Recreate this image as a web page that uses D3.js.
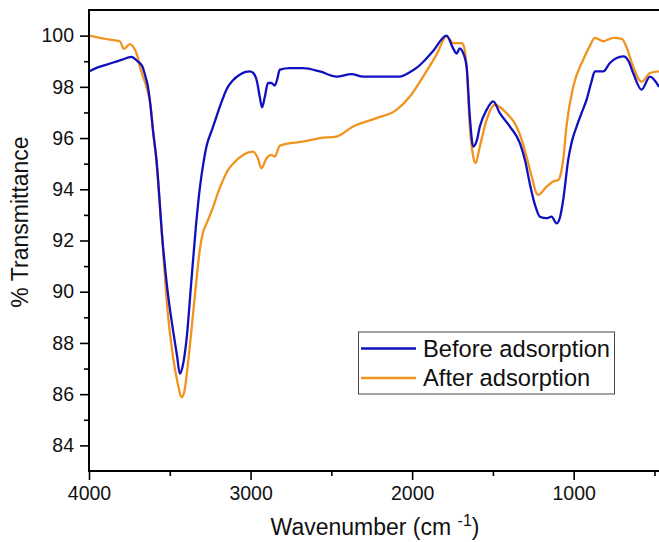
<!DOCTYPE html>
<html>
<head>
<meta charset="utf-8">
<script src="https://cdn.jsdelivr.net/npm/d3@7"></script>
<style>
  body { margin: 0; background: #fff; }
  svg { font-family: "Liberation Sans", Arial, sans-serif; }
</style>
</head>
<body>
<script>
// FTIR spectra
var beforeWn = [4000, 3950, 3900, 3850, 3800, 3738, 3700, 3670, 3655, 3635, 3620, 3604, 3583, 3545, 3515, 3480, 3455, 3438, 3420, 3397, 3366, 3339, 3315, 3290, 3273, 3240, 3211, 3180, 3149, 3110, 3067, 3030, 3005, 2985, 2960, 2943, 2929, 2912, 2892, 2871, 2850, 2835, 2819, 2757, 2675, 2571, 2468, 2375, 2303, 2076, 2020, 1973, 1920, 1870, 1787, 1746, 1725, 1705, 1690, 1663, 1643, 1622, 1600, 1581, 1539, 1498, 1457, 1395, 1333, 1300, 1271, 1240, 1209, 1168, 1137, 1106, 1085, 1065, 1034, 1010, 982, 950, 920, 890, 869, 817, 776, 693, 660, 632, 580, 528, 472];
var beforeT  = [98.6, 98.75, 98.85, 98.95, 99.05, 99.17, 99.0, 98.8, 98.5, 98.0, 97.3, 96.3, 95.2, 92.0, 90.1, 88.5, 87.5, 86.8, 87.1, 88.1, 90.45, 92.5, 94.0, 95.1, 95.67, 96.3, 96.84, 97.4, 97.9, 98.25, 98.47, 98.58, 98.6, 98.55, 98.2, 97.6, 97.2, 97.6, 98.15, 98.15, 98.05, 98.3, 98.67, 98.73, 98.73, 98.6, 98.4, 98.5, 98.4, 98.4, 98.55, 98.74, 99.05, 99.4, 100.0, 99.5, 99.3, 99.5, 99.4, 98.8, 96.84, 95.67, 95.9, 96.45, 97.1, 97.43, 96.97, 96.45, 95.8, 95.1, 94.2, 93.4, 92.93, 92.87, 92.93, 92.67, 92.9, 93.58, 95.15, 95.9, 96.45, 97.0, 97.5, 98.2, 98.6, 98.6, 98.93, 99.19, 99.0, 98.54, 97.89, 98.4, 98.0];

var afterWn = [4000, 3871, 3810, 3783, 3748, 3728, 3700, 3686, 3645, 3620, 3604, 3583, 3545, 3521, 3480, 3450, 3428, 3410, 3397, 3366, 3335, 3315, 3295, 3270, 3232, 3200, 3170, 3140, 3108, 3046, 2985, 2954, 2933, 2902, 2871, 2850, 2819, 2757, 2675, 2571, 2468, 2365, 2220, 2097, 2014, 1932, 1849, 1787, 1746, 1694, 1684, 1663, 1643, 1622, 1607, 1581, 1539, 1488, 1415, 1354, 1320, 1292, 1260, 1230, 1220, 1168, 1127, 1096, 1080, 1065, 1044, 1003, 941, 900, 869, 817, 755, 702, 670, 640, 580, 528, 472];
var afterT  = [100.0, 99.84, 99.78, 99.48, 99.67, 99.58, 99.2, 98.8, 98.0, 97.3, 96.3, 95.1, 91.9, 89.8, 87.45, 86.4, 85.88, 86.1, 86.67, 88.5, 90.45, 91.6, 92.3, 92.7, 93.3, 93.9, 94.36, 94.75, 95.0, 95.34, 95.47, 95.2, 94.82, 95.2, 95.34, 95.28, 95.7, 95.8, 95.86, 96.0, 96.06, 96.45, 96.78, 97.1, 97.62, 98.4, 99.26, 99.97, 99.71, 99.71, 99.65, 98.8, 96.45, 95.28, 95.02, 95.67, 96.71, 97.3, 96.97, 96.45, 95.9, 95.28, 94.5, 93.84, 93.78, 94.1, 94.3, 94.36, 94.6, 95.15, 96.5, 98.0, 99.06, 99.6, 99.91, 99.78, 99.91, 99.87, 99.5, 98.93, 98.2, 98.54, 98.6];

var seriesNames = ["Before adsorption", "After adsorption"];
var seriesColors = ["#1010bf", "#f0931f"];
var xTicks = [4000, 3000, 2000, 1000];
var yTicks = [84, 86, 88, 90, 92, 94, 96, 98, 100];
var xMinor = [3500, 2500, 1500, 500];
var yMinor = [85, 87, 89, 91, 93, 95, 97, 99];

var width = 659, height = 542;
var plotLeft = 89, plotTop = 10, plotRight = 659, plotBottom = 471;

var svg = d3.select("body").append("svg")
    .attr("width", width)
    .attr("height", height);

var x = d3.scaleLinear().domain([4000, 472]).range([plotLeft, plotRight]);
var y = d3.scaleLinear().domain([83, 101]).range([plotBottom, plotTop]);

svg.append("clipPath").attr("id", "clip")
  .append("rect")
    .attr("x", plotLeft).attr("y", plotTop)
    .attr("width", plotRight - plotLeft).attr("height", plotBottom - plotTop);

var series = [
  beforeWn.map(function(w, i) { return {wn: w, t: beforeT[i]}; }),
  afterWn.map(function(w, i) { return {wn: w, t: afterT[i]}; })
];

// pixel x grows as wavenumber falls, so monotoneX works fine here
var line = d3.line()
    .curve(d3.curveMonotoneX)
    .x(function(d) { return x(d.wn); })
    .y(function(d) { return y(d.t); });

// draw "after" first so blue sits on top where they overlap
svg.append("g").attr("clip-path", "url(#clip)")
  .selectAll("path")
  .data([1, 0])
  .enter().append("path")
    .attr("d", function(i) { return line(series[i]); })
    .attr("fill", "none")
    .attr("stroke", function(i) { return seriesColors[i]; })
    .attr("stroke-width", 2.3)
    .attr("stroke-linejoin", "round");

// axes (major + minor ticks), domain lines replaced by the frame below
svg.append("g")
    .attr("transform", "translate(0," + plotBottom + ")")
    .call(d3.axisBottom(x).tickValues(xTicks).tickFormat(d3.format("d")).tickSize(9).tickPadding(6));
svg.append("g")
    .attr("transform", "translate(0," + plotBottom + ")")
    .call(d3.axisBottom(x).tickValues(xMinor).tickFormat("").tickSize(5));
svg.append("g")
    .attr("transform", "translate(" + plotLeft + ",0)")
    .call(d3.axisLeft(y).tickValues(yTicks).tickSize(9).tickPadding(6));
svg.append("g")
    .attr("transform", "translate(" + plotLeft + ",0)")
    .call(d3.axisLeft(y).tickValues(yMinor).tickFormat("").tickSize(5));

svg.selectAll(".domain").remove();
svg.selectAll(".tick line").attr("stroke", "#000").attr("stroke-width", 1.6);
svg.selectAll(".tick text").attr("font-size", 19.5).attr("fill", "#111")
    .attr("font-family", "Liberation Sans, Arial, sans-serif");

// frame: top, left, bottom
svg.append("path")
    .attr("d", "M" + plotRight + "," + plotTop + "H" + plotLeft + "V" + plotBottom + "H" + plotRight)
    .attr("fill", "none")
    .attr("stroke", "#000")
    .attr("stroke-width", 2);

// axis titles
var xt = svg.append("text")
    .attr("x", 375).attr("y", 535)
    .attr("text-anchor", "middle")
    .attr("font-size", 23)
    .attr("fill", "#111");
xt.append("tspan").text("Wavenumber (cm ");
xt.append("tspan").attr("dy", -9).attr("font-size", 16).text("-1");
xt.append("tspan").attr("dy", 9).text(")");

svg.append("text")
    .attr("transform", "translate(28,222) rotate(-90)")
    .attr("text-anchor", "middle")
    .attr("font-size", 23)
    .attr("fill", "#111")
    .text("% Transmittance");

// legend
var legend = svg.append("g");
legend.append("rect")
    .attr("x", 358.5).attr("y", 332)
    .attr("width", 256).attr("height", 62)
    .attr("fill", "#fff")
    .attr("stroke", "#444")
    .attr("stroke-width", 1);
var items = legend.selectAll("g.item")
    .data(seriesNames)
    .enter().append("g")
    .attr("transform", function(d, i) { return "translate(0," + (i * 29.5) + ")"; });
items.append("line")
    .attr("x1", 361).attr("x2", 416)
    .attr("y1", 348.5).attr("y2", 348.5)
    .attr("stroke", function(d, i) { return seriesColors[i]; })
    .attr("stroke-width", 2.4);
items.append("text")
    .attr("x", 423).attr("y", 356.5)
    .attr("font-size", 23.7)
    .attr("fill", "#111")
    .text(function(d) { return d; });
</script>
</body>
</html>
